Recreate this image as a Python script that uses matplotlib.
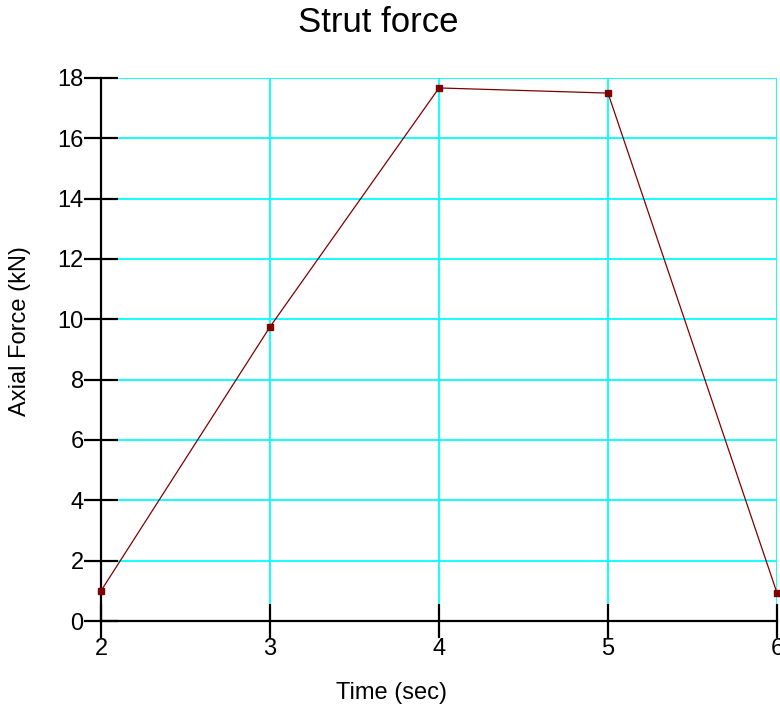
import matplotlib
matplotlib.use("Agg")
from matplotlib import pyplot as plt

time_s = [2, 3, 4, 5, 6]
force_kn = [1.0, 9.75, 17.67, 17.5, 0.93]
x_ticks = [2, 3, 4, 5, 6]
y_ticks = [0, 2, 4, 6, 8, 10, 12, 14, 16, 18]

plt.rcParams["font.family"] = ["Liberation Sans", "DejaVu Sans"]

fig = plt.figure(figsize=(7.8, 7.1), dpi=100)
ax = fig.add_axes([101 / 780, 1 - 621 / 710, 676 / 780, 543 / 710])

ax.plot(time_s, force_kn, color="#800000", lw=0.9, marker="s", ms=5,
        mfc="#800000", mec="#800000", clip_on=False, zorder=3)

ax.set_xlim(2, 6)
ax.set_ylim(0, 18)
ax.set_xticks(x_ticks)
ax.set_yticks(y_ticks)
ax.grid(True, color="#00FFFF", lw=1.3)
ax.set_axisbelow(True)

for s in ["top", "right"]:
    ax.spines[s].set_visible(False)
ax.spines["left"].set_linewidth(1.6)
ax.spines["bottom"].set_linewidth(1.6)
ax.tick_params(direction="inout", length=24, width=1.6, labelsize=17, pad=0.5)

# title and axis labels sit relative to the figure, not the axes
fig.text(378 / 780, 1 - 22 / 710, "Strut force", fontsize=25,
         ha="center", va="center")
fig.text(392 / 780, 1 - 693 / 710, "Time (sec)", fontsize=17,
         ha="center", va="center")
fig.text(20 / 780, 1 - 331 / 710, "Axial Force (kN)", fontsize=17,
         ha="center", va="center", rotation=90)

fig.savefig("out.png", dpi=100)
